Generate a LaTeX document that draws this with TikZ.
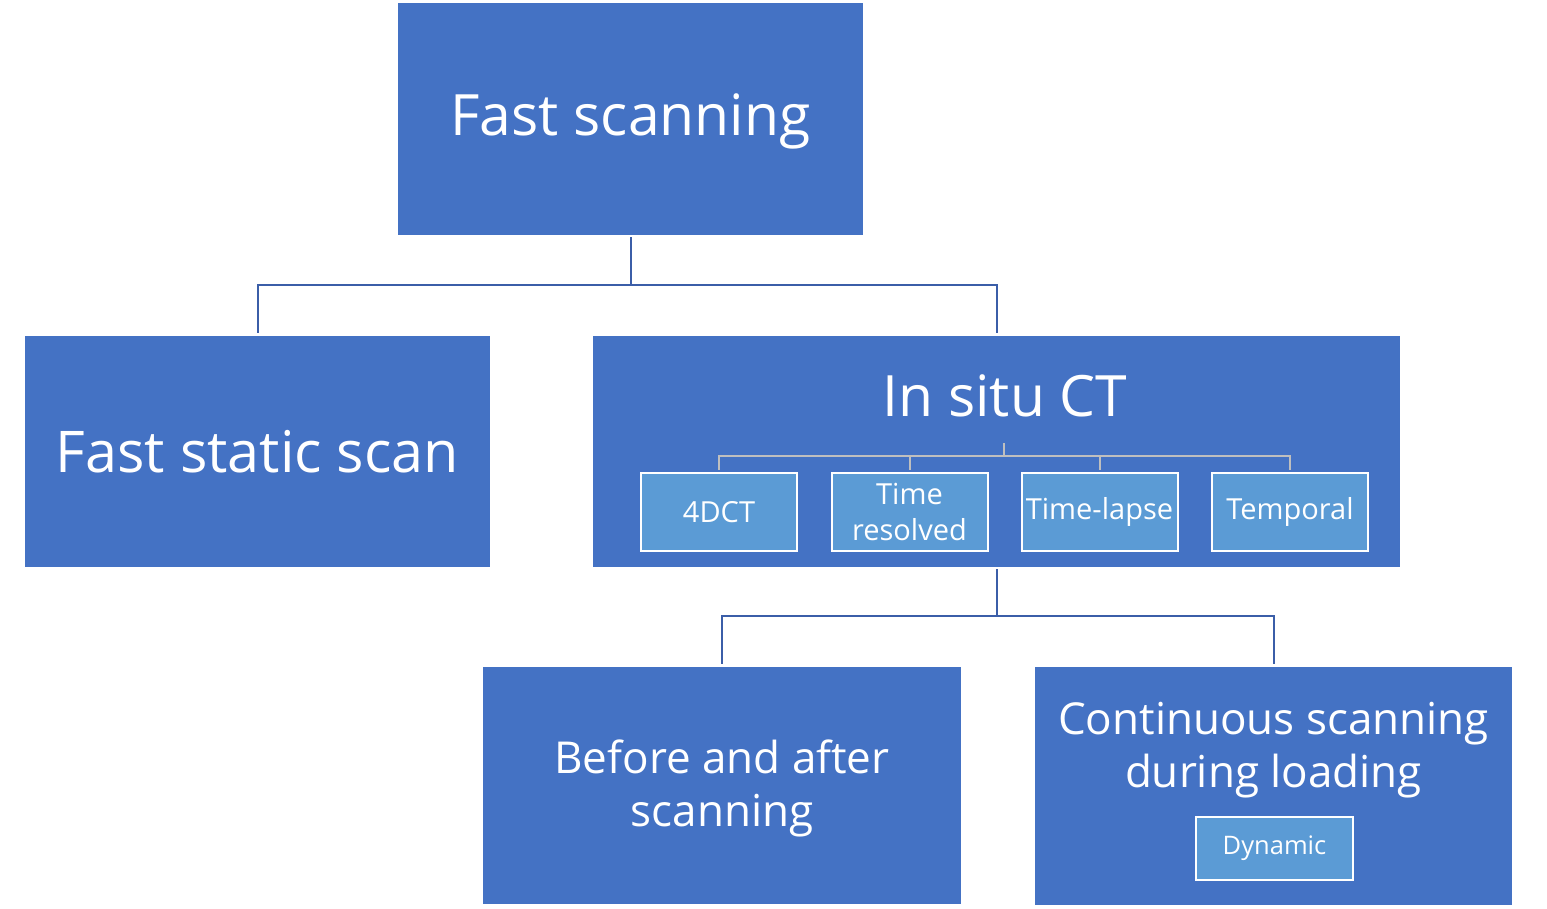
\documentclass[tikz,border=0pt]{standalone}
\usepackage{fontspec}
\setmainfont{Open Sans}
\usetikzlibrary{positioning}
\definecolor{mainblue}{HTML}{4472C4}
\definecolor{subblue}{HTML}{5B9BD5}
\definecolor{linkblue}{RGB}{59,94,168}
\definecolor{linkgray}{HTML}{BFBFBF}
\begin{document}
\begin{tikzpicture}[
                x=1pt, y=-1pt,
                bigbox/.style={rectangle, fill=mainblue, draw=none, text=white, align=center, inner sep=0pt},
                tagbox/.style={rectangle, fill=subblue, draw=white, line width=2pt, text=white, align=center, inner sep=0pt, minimum width=156pt, minimum height=78pt, font=\fontsize{29}{36}\selectfont},
                link/.style={draw=linkblue, line width=2pt, shorten >=3pt},
                sublink/.style={draw=linkgray, line width=2pt, shorten >=2pt},
            ]
            \useasboundingbox (0,0) rectangle (1547,908);
            \node[bigbox, minimum width=465pt, minimum height=232pt] (top) at (630.5, 119) {};
            \node[text=white, font=\fontsize{57}{64}\selectfont, inner sep=0pt] (toptitle) at (630.5, 121) {Fast scanning};
            \node[bigbox, minimum width=465pt, minimum height=231pt, font=\fontsize{57.5}{64}\selectfont] (static) at (257.5, 451.5) {Fast static scan};
            \node[bigbox, minimum width=807pt, minimum height=231pt] (insitu) at (996.5, 451.5) {};
            \node[text=white, font=\fontsize{57}{64}\selectfont, inner sep=0pt] (insitutitle) at (1005, 396) {In situ CT};
            \node[tagbox] (dct) at (719, 512) {4DCT};
            \node[tagbox] (resolved) at (909.5, 512) {Time\\resolved};
            \node[tagbox] (lapse) at (1099.5, 512) {Time-lapse};
            \node[tagbox] (temporal) at (1290, 512) {Temporal};
            \node[bigbox, minimum width=478pt, minimum height=237pt] (before) at (722, 785.5) {};
            \node[text=white, font=\fontsize{44}{53}\selectfont, align=center, inner sep=0pt] (beforetitle) at (722, 788.5) {Before and after\\scanning};
            \node[bigbox, minimum width=477pt, minimum height=238pt] (contin) at (1273.5, 786) {};
            \node[text=white, font=\fontsize{44}{53}\selectfont, align=center, inner sep=0pt] (contintitle) at (1273.5, 750) {Continuous scanning\\during loading};
            \node[tagbox, minimum width=157pt, minimum height=63pt, font=\fontsize{25.5}{30}\selectfont] (dynamic) at (1274.5, 848.5) {Dynamic};

            \coordinate (busa) at (630.5, 285);
            \coordinate (busb) at (996.5, 616);
            \coordinate (hub) at (1004, 443);
            \coordinate (busc) at (1004, 456);
            \draw[link, shorten <=2pt] (top.south) -- (busa) -| (static.north);
            \draw[link] (busa) -| (insitu.north);
            \draw[link, shorten <=2pt] (insitu.south) -- (busb) -| (before.north);
            \draw[link] (busb) -| (contin.north);
            \draw[sublink, shorten >=0pt] (hub) -- (busc);
            \draw[sublink] (busc) -| (dct.north);
            \draw[sublink] (busc) -| (resolved.north);
            \draw[sublink] (busc) -| (lapse.north);
            \draw[sublink] (busc) -| (temporal.north);
        \end{tikzpicture}
\end{document}
